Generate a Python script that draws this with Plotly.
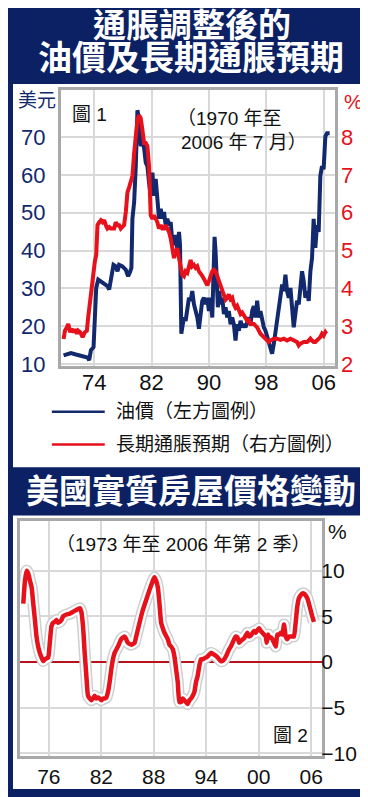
import plotly.graph_objects as go

# ---------------- data: chart 1 (oil price, USD, left axis) ----------------
oil_year = [1969.73, 1970.75, 1971.45, 1972.14, 1973.07, 1973.30, 1973.54, 1973.91,
            1974.09, 1974.28, 1974.56, 1975.16, 1975.85, 1976.09, 1976.32, 1976.55,
            1976.69, 1977.01, 1977.25, 1977.48, 1977.94, 1978.41, 1978.73, 1978.96,
            1979.19, 1979.33, 1979.57, 1979.80, 1980.03, 1980.26, 1980.49, 1980.72,
            1980.96, 1981.19, 1981.42, 1981.65, 1981.88, 1982.12, 1982.35, 1982.58,
            1982.81, 1983.04, 1983.28, 1983.51, 1983.74, 1983.97, 1984.20, 1984.44,
            1984.67, 1984.90, 1985.13, 1985.36, 1985.60, 1985.83, 1985.97, 1986.06,
            1986.15, 1986.29, 1986.52, 1986.75, 1986.99, 1987.22, 1987.45, 1987.68,
            1987.91, 1988.15, 1988.38, 1988.61, 1988.84, 1989.07, 1989.31, 1989.54,
            1989.77, 1990.00, 1990.23, 1990.47, 1990.60, 1990.79, 1990.93, 1991.07,
            1991.25, 1991.44, 1991.63, 1991.86, 1992.09, 1992.32, 1992.55, 1992.78,
            1993.02, 1993.25, 1993.48, 1993.71, 1993.94, 1994.18, 1994.41, 1994.64,
            1994.87, 1995.10, 1995.34, 1995.57, 1995.80, 1996.03, 1996.26, 1996.50,
            1996.73, 1996.96, 1997.19, 1997.42, 1997.66, 1997.89, 1998.12, 1998.35,
            1998.58, 1998.81, 1999.05, 1999.28, 1999.51, 1999.74, 1999.97, 2000.21,
            2000.44, 2000.67, 2000.90, 2001.13, 2001.37, 2001.60, 2001.83, 2002.06,
            2002.29, 2002.53, 2002.76, 2002.99, 2003.22, 2003.45, 2003.68, 2003.92,
            2004.15, 2004.38, 2004.61, 2004.84, 2005.08, 2005.31, 2005.54, 2005.77,
            2006.00, 2006.24, 2006.47, 2006.84]
oil_usd = [12.3, 12.9, 12.5, 12.2, 11.7, 11.0, 13.6, 14.5,
           25.8, 30.1, 32.3, 31.4, 30.6, 29.7, 31.9, 33.6,
           36.2, 35.8, 34.5, 36.2, 35.8, 34.9, 33.2, 34.1,
           35.4, 48.4, 52.8, 62.3, 77.1, 74.5, 67.6, 69.3,
           67.1, 63.2, 62.3, 58.0, 54.5, 60.6, 54.5, 58.9,
           51.9, 48.4, 51.0, 48.4, 50.2, 46.7, 48.4, 46.7,
           47.5, 42.3, 41.5, 44.1, 39.7, 44.9, 41.5, 31.0,
           18.0, 19.7, 22.3, 21.4, 25.8, 27.5, 26.7, 29.3,
           25.8, 24.0, 22.3, 19.3, 22.3, 26.7, 27.5, 25.8,
           27.5, 24.0, 27.5, 22.3, 31.0, 43.6, 39.7, 32.8,
           25.0, 29.3, 25.8, 27.5, 23.2, 25.0, 22.3, 24.0,
           20.5, 22.3, 20.5, 16.2, 20.5, 18.8, 21.4, 19.7,
           20.5, 19.7, 21.4, 22.3, 20.5, 24.0, 25.3, 22.3,
           26.7, 22.3, 24.0, 21.4, 19.7, 18.8, 17.1, 15.3,
           14.5, 12.7, 15.3, 18.8, 22.3, 25.8, 29.3, 31.0,
           29.3, 33.6, 29.3, 27.5, 30.1, 25.8, 19.7, 23.2,
           26.7, 25.8, 29.3, 34.5, 31.9, 27.5, 29.3, 26.7,
           34.5, 38.0, 48.4, 40.7, 46.7, 44.9, 59.7, 62.3,
           61.5, 70.2, 71.0, 71.0]

# ---------------- data: chart 1 (long-term inflation expectation, %, right axis) ----------------
inf_year = [1969.73, 1969.92, 1970.20, 1970.38, 1970.66, 1970.85, 1971.12, 1971.31,
            1971.59, 1971.77, 1972.05, 1972.38, 1972.70, 1972.98, 1973.16, 1973.44,
            1973.77, 1974.09, 1974.28, 1974.46, 1974.70, 1974.93, 1975.16, 1975.39,
            1975.62, 1975.85, 1976.09, 1976.32, 1976.78, 1977.01, 1977.25, 1977.48,
            1977.71, 1977.94, 1978.17, 1978.41, 1978.64, 1978.87, 1979.10, 1979.33,
            1979.57, 1979.80, 1980.03, 1980.26, 1980.49, 1980.72, 1980.96, 1981.19,
            1981.42, 1981.65, 1981.79, 1981.88, 1982.12, 1982.35, 1982.58, 1982.81,
            1983.04, 1983.28, 1983.51, 1983.74, 1983.97, 1984.20, 1984.44, 1984.67,
            1984.90, 1985.13, 1985.36, 1985.60, 1985.83, 1986.06, 1986.29, 1986.52,
            1986.75, 1986.99, 1987.22, 1987.45, 1987.68, 1987.91, 1988.15, 1988.38,
            1988.61, 1988.84, 1989.07, 1989.31, 1989.54, 1989.77, 1990.00, 1990.23,
            1990.47, 1990.70, 1990.93, 1991.16, 1991.39, 1991.63, 1991.86, 1992.09,
            1992.32, 1992.55, 1992.78, 1993.02, 1993.25, 1993.48, 1993.71, 1993.94,
            1994.18, 1994.41, 1994.64, 1994.87, 1995.10, 1995.34, 1995.57, 1995.80,
            1996.26, 1996.50, 1996.73, 1996.96, 1997.19, 1997.66, 1997.89, 1998.12,
            1998.35, 1998.58, 1999.05, 1999.51, 1999.97, 2000.44, 2000.90, 2001.37,
            2001.83, 2002.29, 2002.53, 2002.76, 2003.22, 2003.68, 2003.92, 2004.15,
            2004.38, 2004.61, 2004.84, 2005.08, 2005.31, 2005.54, 2005.77, 2006.00,
            2006.24, 2006.38]
inf_pct = [2.66, 2.88, 2.97, 3.06, 2.84, 2.92, 2.84, 2.92,
           2.80, 2.88, 2.84, 2.71, 2.84, 2.88, 3.23, 3.75,
           4.27, 4.71, 4.88, 5.67, 5.75, 5.80, 5.75, 5.80,
           5.67, 5.58, 5.62, 5.58, 5.58, 5.75, 5.67, 5.67,
           5.58, 5.62, 5.67, 6.02, 6.54, 6.67, 6.80, 6.97,
           7.58, 8.19, 8.45, 8.58, 8.50, 8.19, 7.84, 7.84,
           7.76, 7.23, 6.71, 5.93, 5.84, 5.93, 5.84, 5.75,
           5.58, 5.67, 5.58, 5.58, 5.67, 5.58, 5.49, 5.32,
           4.97, 4.80, 4.97, 5.06, 4.80, 4.54, 4.36, 4.32,
           4.45, 4.41, 4.58, 4.75, 4.58, 4.62, 4.54, 4.58,
           4.45, 4.40, 4.33, 4.25, 4.17, 4.08, 4.19, 4.36,
           4.45, 4.49, 4.45, 4.32, 4.19, 4.05, 3.95, 3.84,
           3.70, 3.75, 3.84, 3.71, 3.75, 3.58, 3.49, 3.54,
           3.40, 3.32, 3.36, 3.27, 3.23, 3.14, 3.19, 3.06,
           3.06, 3.01, 2.97, 2.88, 2.80, 2.71, 2.67, 2.62,
           2.58, 2.62, 2.67, 2.67, 2.64, 2.67, 2.62, 2.67,
           2.62, 2.58, 2.49, 2.54, 2.58, 2.58, 2.62, 2.67,
           2.62, 2.58, 2.58, 2.62, 2.67, 2.71, 2.80, 2.75,
           2.84, 2.80]

y1_ticks = [10, 20, 30, 40, 50, 60, 70]
y2_ticks = [2, 3, 4, 5, 6, 7, 8]
x1_ticks = [1974, 1982, 1990, 1998, 2006]
x1_labels = ["74", "82", "90", "98", "06"]

# ---------------- data: chart 2 (real house price change, %) ----------------
hp_year = [1973.08, 1973.27, 1973.46, 1973.65, 1973.84, 1974.03, 1974.22, 1974.41,
           1974.59, 1974.78, 1974.97, 1975.16, 1975.35, 1975.54, 1975.92, 1976.11,
           1976.30, 1976.49, 1976.68, 1976.87, 1977.06, 1977.25, 1977.44, 1977.63,
           1978.01, 1978.39, 1978.77, 1979.15, 1979.53, 1979.72, 1979.91, 1980.10,
           1980.29, 1980.48, 1980.67, 1980.86, 1981.05, 1981.24, 1981.43, 1981.62,
           1981.81, 1982.00, 1982.19, 1982.38, 1982.57, 1982.76, 1982.95, 1983.14,
           1983.33, 1983.52, 1983.90, 1984.28, 1984.66, 1984.85, 1985.04, 1985.42,
           1985.80, 1985.99, 1986.37, 1986.75, 1987.13, 1987.51, 1987.89, 1988.08,
           1988.27, 1988.46, 1988.65, 1988.84, 1989.03, 1989.22, 1989.60, 1989.79,
           1989.98, 1990.17, 1990.36, 1990.55, 1990.74, 1990.93, 1991.12, 1991.31,
           1991.50, 1991.69, 1991.88, 1992.07, 1992.26, 1992.45, 1992.64, 1992.83,
           1993.02, 1993.21, 1993.40, 1993.59, 1993.96, 1994.15, 1994.53, 1994.91,
           1995.29, 1995.67, 1995.86, 1996.05, 1996.24, 1996.43, 1996.62, 1996.81,
           1997.00, 1997.19, 1997.38, 1997.57, 1997.76, 1997.95, 1998.33, 1998.71,
           1998.90, 1999.09, 1999.47, 1999.66, 1999.85, 2000.04, 2000.23, 2000.42,
           2000.61, 2000.80, 2000.91, 2001.07, 2001.18, 2001.37, 2001.56, 2001.75,
           2001.94, 2002.13, 2002.32, 2002.51, 2002.70, 2002.89, 2003.08, 2003.27,
           2003.46, 2003.65, 2003.84, 2004.03, 2004.22, 2004.41, 2004.60, 2004.79,
           2004.98, 2005.17, 2005.36, 2005.55, 2005.74, 2005.93, 2006.12, 2006.31]
hp_pct = [6.4, 8.9, 10.0, 9.7, 8.9, 8.2, 6.4, 4.6,
          2.8, 1.7, 1.0, 0.5, 0.1, 0.3, 0.5, 2.1,
          3.9, 4.3, 4.4, 4.6, 4.3, 4.4, 4.6, 5.0,
          5.2, 5.3, 5.5, 5.7, 5.9, 5.5, 3.9, 1.0,
          -1.5, -3.7, -4.0, -4.2, -4.0, -3.7, -4.0, -3.9,
          -4.0, -4.2, -4.0, -4.0, -3.9, -3.3, -2.2, -0.8,
          0.3, 1.0, 1.7, 2.5, 2.8, 2.5, 2.1, 1.9,
          2.1, 2.8, 4.3, 5.7, 6.8, 7.9, 8.9, 9.3,
          8.9, 8.2, 6.4, 4.3, 3.7, 3.2, 2.5, 1.9,
          1.7, 1.4, 0.6, -0.8, -2.2, -4.4, -4.4, -4.0,
          -4.2, -4.4, -4.6, -4.2, -4.0, -3.7, -3.3, -2.2,
          -1.5, -0.4, 0.3, 0.3, 0.5, 0.6, 1.0, 0.8,
          0.5, 0.1, 0.1, 0.3, 0.6, 1.0, 1.4, 1.7,
          2.1, 2.5, 2.8, 2.7, 2.1, 2.3, 2.6, 3.2,
          2.8, 2.9, 3.4, 3.2, 3.5, 3.7, 3.4, 3.2,
          3.0, 2.8, 2.1, 3.0, 2.7, 2.7, 2.5, 2.1,
          1.7, 3.0, 3.0, 3.2, 3.0, 4.1, 2.8, 2.5,
          2.8, 2.8, 2.8, 2.8, 4.3, 6.1, 7.0, 7.3,
          7.5, 7.5, 7.3, 7.0, 6.4, 5.7, 5.0, 4.4]

y3_ticks = [-10, -5, 0, 5, 10]
x2_ticks = [1976, 1982, 1988, 1994, 2000, 2006]
x2_labels = ["76", "82", "88", "94", "00", "06"]

# ---------------- styling ----------------
W, H = 368, 797
NAVY_BG = "#0b2163"
NAVY = "#12296e"
RED = "#e6111b"
GRID = "#d9d9d9"
FRAME = "#a9a9a9"
NUMF = "Liberation Sans, Arial, sans-serif"
CJKF = "Liberation Sans, Noto Sans CJK TC, sans-serif"


def px(x):
    return x / W


def py(y):
    return 1 - y / H


fig = go.Figure()

fig.add_trace(go.Scatter(x=oil_year, y=oil_usd, mode="lines", xaxis="x", yaxis="y",
                         line=dict(color=NAVY, width=4), showlegend=False,
                         hoverinfo="skip"))
fig.add_trace(go.Scatter(x=inf_year, y=inf_pct, mode="lines", xaxis="x", yaxis="y2",
                         line=dict(color=RED, width=4), showlegend=False,
                         hoverinfo="skip"))

for col, w in [("#cfcfcf", 12), ("white", 9), (RED, 4.5)]:
    fig.add_trace(go.Scatter(x=hp_year, y=hp_pct, mode="lines", xaxis="x2", yaxis="y3",
                             line=dict(color=col, width=w, shape="spline", smoothing=0.5),
                             showlegend=False, hoverinfo="skip"))

axis_common = dict(showline=True, linecolor=FRAME, linewidth=3, mirror=True,
                   showgrid=True, gridcolor=GRID, gridwidth=2, zeroline=False,
                   ticks="", fixedrange=True)

fig.update_layout(
    width=W, height=H, autosize=False,
    margin=dict(l=0, r=0, t=0, b=0),
    paper_bgcolor=NAVY_BG, plot_bgcolor="white",
    xaxis=dict(domain=[px(53), px(328)], anchor="y", range=[1969.35, 2007.6],
               tickvals=x1_ticks, ticktext=x1_labels,
               tickfont=dict(family=NUMF, size=22, color="#111111"),
               ticklabelstandoff=-6, **axis_common),
    yaxis=dict(domain=[py(363), py(83)], anchor="x", range=[9.35, 82.45],
               tickvals=y1_ticks, tickfont=dict(family=NUMF, size=22, color=NAVY),
               ticklabelstandoff=8, **axis_common),
    yaxis2=dict(overlaying="y", side="right", anchor="x", range=[1.935, 9.245],
                tickvals=y2_ticks, tickfont=dict(family=NUMF, size=22, color=RED),
                showgrid=False, zeroline=False, showline=False, ticks="",
                ticklabelstandoff=5, fixedrange=True),
    xaxis2=dict(domain=[px(12), px(315)], anchor="y3", range=[1972.7, 2007.25],
                tickvals=x2_ticks, ticktext=x2_labels,
                tickfont=dict(family=NUMF, size=21, color="#111111"),
                ticklabelstandoff=0, **axis_common),
    yaxis3=dict(domain=[py(757), py(520)], anchor="x2", side="right",
                range=[-10.25, 15.4], tickvals=y3_ticks,
                tickfont=dict(family=NUMF, size=21, color="#111111"),
                ticklabelstandoff=-8,
                **{**axis_common, "zeroline": True},
                zerolinecolor="#b5121b", zerolinewidth=2),
)

shapes = [
    dict(type="rect", xref="paper", yref="paper", x0=px(5), x1=px(363),
         y0=py(465), y1=py(77), fillcolor="white", line=dict(width=0), layer="below"),
    dict(type="rect", xref="paper", yref="paper", x0=px(5), x1=px(363),
         y0=py(791), y1=py(514), fillcolor="white", line=dict(width=0), layer="below"),
    dict(type="line", xref="paper", yref="paper", x0=px(44), x1=px(97),
         y0=py(409), y1=py(409), line=dict(color=NAVY, width=2.5)),
    dict(type="line", xref="paper", yref="paper", x0=px(44), x1=px(97),
         y0=py(442), y1=py(442), line=dict(color=RED, width=2.5)),
]
fig.update_layout(shapes=shapes)


def note(text, x, y, size=19, color="#111111", xanchor="left", family=CJKF):
    return dict(text=text, x=px(x), y=py(y), xref="paper", yref="paper",
                xanchor=xanchor, yanchor="middle", showarrow=False,
                font=dict(family=family, size=size, color=color))


TITLEF = "Noto Sans CJK TC, sans-serif"
annotations = [
    note("<b>通脹調整後的</b>", 184, 15, size=33, color="white", xanchor="center", family=TITLEF),
    note("<b>油價及長期通脹預期</b>", 183, 48, size=34, color="white", xanchor="center", family=TITLEF),
    note("美元", 29, 94, size=19, color=NAVY, xanchor="center"),
    note("%", 346, 95, size=21, color=RED, xanchor="center", family=NUMF),
    note("圖 1", 62, 108),
    note("（1970 年至", 167, 112),
    note("2006 年 7 月）", 171, 136),
    note("油價（左方圖例）", 106, 409),
    note("長期通脹預期（右方圖例）", 106, 442),
    note("<b>美國實質房屋價格變動</b>", 183, 487, size=33, color="white", xanchor="center", family=TITLEF),
    note("%", 330, 530, size=21, xanchor="center", family=NUMF),
    note("（1973 年至 2006 年第 2 季）", 46, 543),
    note("圖 2", 264, 737),
]
fig.update_layout(annotations=annotations)

fig.write_html("out.html")
